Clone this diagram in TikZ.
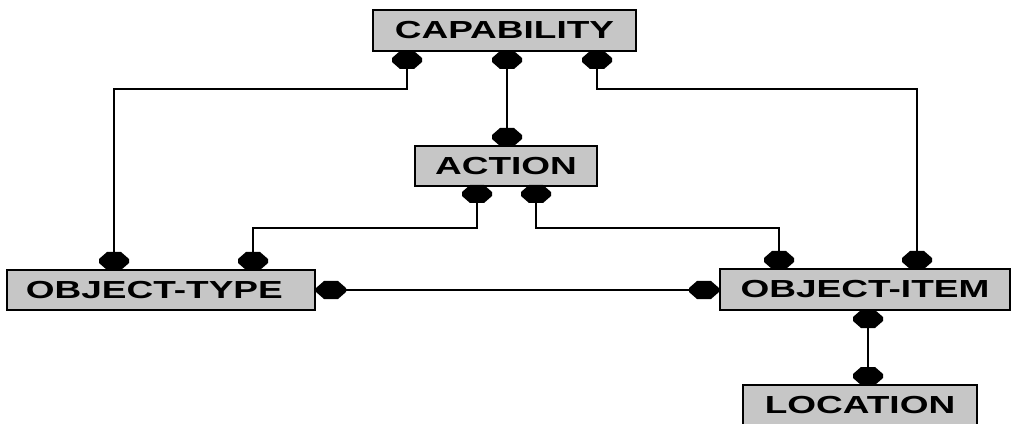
\documentclass[tikz,border=0pt]{standalone}
\usepackage{fontspec}
\setmainfont{Liberation Sans}
\definecolor{boxgray}{RGB}{198,198,198}
\newcommand{\wtxt}[1]{\scalebox{1.5}[1]{\fontsize{18.5pt}{18.5pt}\selectfont\bfseries #1}}
\tikzset{
  erbox/.style={draw=black, line width=1.5pt, fill=boxgray, inner sep=0pt, font=\bfseries},
  conn/.style={draw=black, line width=1.5pt},
  pics/erdot/.style={code={\fill[black] (-7,-9)--(7,-9)--(15,-2)--(15,2)--(7,9)--(-7,9)--(-15,2)--(-15,-2)--cycle;}}
}
\begin{document}
\begin{tikzpicture}[x=0.75pt,y=-0.75pt]
\clip (0,0) rectangle (1011,424);
\fill[white] (0,0) rectangle (1011,424);
% boxes
\node[erbox, minimum width=197.25pt, minimum height=30.75pt] (cap) at (504.5,30.5) {\wtxt{CAPABILITY}};
\node[erbox, minimum width=136.5pt, minimum height=30pt] (act) at (506,166) {\wtxt{ACTION}};
\node[erbox, minimum width=231pt, minimum height=30pt] (ot) at (161,290) {\wtxt{OBJECT-TYPE}\hspace*{10pt}};
\node[erbox, minimum width=217.5pt, minimum height=30.75pt] (oi) at (865,289.5) {\wtxt{OBJECT-ITEM}};
\node[erbox, minimum width=175.5pt, minimum height=30pt] (loc) at (860,405) {\wtxt{LOCATION}};
% marker positions
\coordinate (c1) at (407,60);
\coordinate (c2) at (507,60);
\coordinate (c3) at (597,60);
\coordinate (a0) at (507,137);
\coordinate (a1) at (477,194);
\coordinate (a2) at (536,194);
\coordinate (t1) at (114,261);
\coordinate (t2) at (253,261);
\coordinate (t3) at (331,290);
\coordinate (i1) at (704,290);
\coordinate (i2) at (779,260);
\coordinate (i3) at (917,260);
\coordinate (i4) at (868,319);
\coordinate (l1) at (868,376);
\coordinate (e1) at (0,89);
\coordinate (e2) at (0,228);
% connectors
\draw[conn] (c1) -- (c1 |- e1) -| (t1);
\draw[conn] (c3) -- (c3 |- e1) -| (i3);
\draw[conn] (c2) -- (a0);
\draw[conn] (a1) -- (a1 |- e2) -| (t2);
\draw[conn] (a2) -- (a2 |- e2) -| (i2);
\draw[conn] (t3) -- (i1);
\draw[conn] (i4) -- (l1);
% markers
\foreach \m in {c1,c2,c3,a0,a1,a2,t1,t2,t3,i1,i2,i3,i4,l1}
  \pic at (\m) {erdot};
\end{tikzpicture}
\end{document}
